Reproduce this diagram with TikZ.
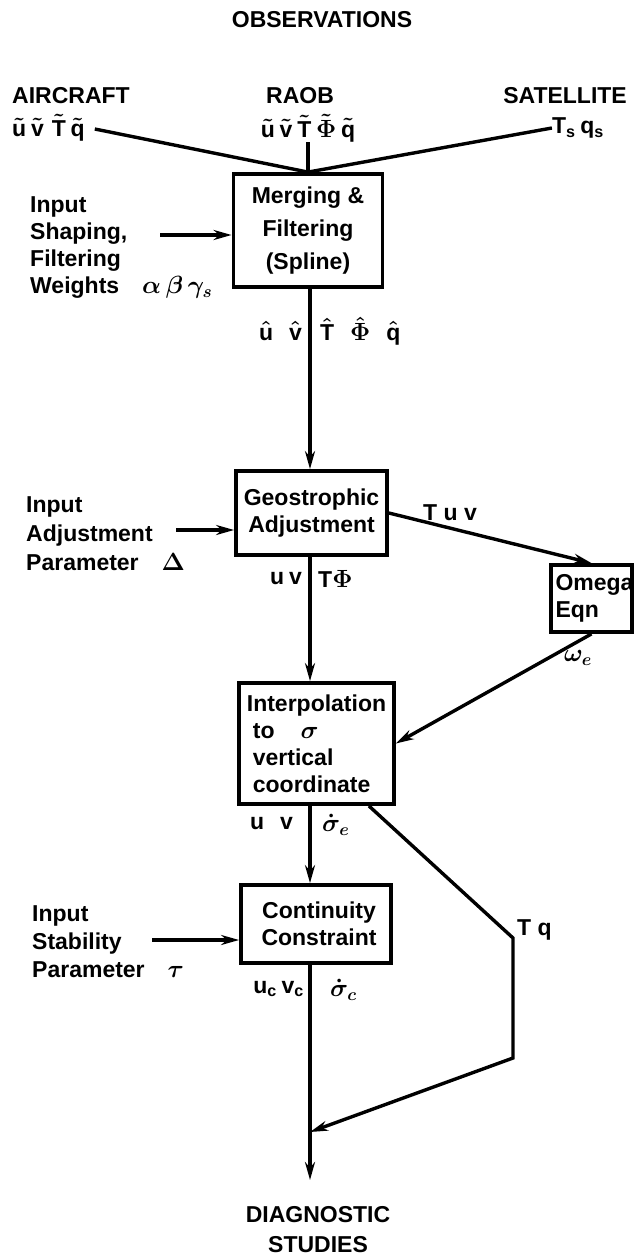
\documentclass[tikz,border=0pt]{standalone}
\usepackage{fontspec}
\setmainfont{Liberation Sans}
\usetikzlibrary{positioning, arrows.meta}
\tikzset{
    block/.style={draw, rectangle, line width=3.8pt, inner sep=0pt, align=center},
    note/.style={inner sep=0pt, align=left},
    wire/.style={line width=3.4pt}
}

\begin{document}
\begin{tikzpicture}[
    x=1pt, y=-1pt,
    >={Stealth[length=18pt,width=10pt]},
    every node/.style={font=\fontsize{23}{27}\selectfont\bfseries\boldmath}
]
\useasboundingbox (0,0) rectangle (633,1257);

% Boxes
\node[block, minimum width=149pt, minimum height=113pt] (merge) at (308,230.5) {Merging \&\\[6pt]Filtering\\[6pt](Spline)};
\node[block, minimum width=151pt, minimum height=84pt] (geo) at (311.5,513) {Geostrophic\\Adjustment};
\node[block, minimum width=155pt, minimum height=121pt, align=left] (interp) at (316.5,743.5) {Interpolation\\\hspace*{6pt}to\hspace{26pt}$\sigma$\\\hspace*{6pt}vertical\\\hspace*{6pt}coordinate};
\node[block, minimum width=150pt, minimum height=78pt] (cont) at (316,924) {\hspace*{6pt}Continuity\\\hspace*{6pt}Constraint};
\node[block, minimum width=81pt, minimum height=67pt, align=left, text width=72pt] (omega) at (591.5,598.5) {Omega\\Eqn};

% Observations
\node[note] (obs) at (322,20) {OBSERVATIONS};
\node[note, anchor=west] (air) at (12,96) {AIRCRAFT};
\node[note, anchor=west] (airsym) at (12,128) {$\tilde{\mathrm u}\,\tilde{\mathrm v}\;\tilde{\mathrm T}\,\tilde{\mathrm q}$};
\node[note] (raob) at (300,96) {RAOB};
\node[note] (raobsym) at (308,128) {$\tilde{\mathrm u}\,\tilde{\mathrm v}\,\tilde{\mathrm T}\,\tilde\Phi\,\tilde{\mathrm q}$};
\node[note, anchor=east] (sat) at (627,96) {SATELLITE};
\node[note] (satsym) at (578,128) {$\mathrm{T_s\,q_s}$};

% Inputs
\node[note, anchor=west] (inmerge) at (30,248) {Input\\Shaping,\\Filtering\\Weights\quad$\alpha\,\beta\,\gamma_s$};
\node[note, anchor=west] (ingeo) at (26,534) {Input\\[2pt]Adjustment\\[2pt]Parameter\quad$\Delta$};
\node[note, anchor=west] (incont) at (32,942) {Input\\[1pt]Stability\\[1pt]Parameter\quad$\tau$};
\coordinate (inA) at (160,235);
\coordinate (inB) at (176,530);
\coordinate (inC) at (152,940);

% Variables beside the lines
\node[note, anchor=east] (hatuv) at (302,331) {$\hat{\mathrm u}\;\;\hat{\mathrm v}$};
\node[note, anchor=west] (hatrest) at (320,331) {$\hat{\mathrm T}\;\;\hat\Phi\;\;\hat{\mathrm q}$};
\node[note, anchor=east] (geouv) at (302,579) {$\mathrm{u\,v}$};
\node[note, anchor=west] (geotp) at (318,579) {$\mathrm T\Phi$};
\node[note, anchor=east] (intuv) at (293,824) {$\mathrm{u\;\;v}$};
\node[note, anchor=west] (intsig) at (322,825) {$\dot\sigma_e$};
\node[note, anchor=east] (contuv) at (304,989) {$\mathrm{u_c\,v_c}$};
\node[note, anchor=west] (contsig) at (330,990) {$\dot\sigma_c$};
\node[note] (tuv) at (450,513) {T\;u\;v};
\node[note] (omout) at (578,658) {$\omega_e$};
\node[note, anchor=west] (tq) at (517,930) {T\;q};

\node[note, align=center] (diag) at (318,1230) {DIAGNOSTIC\\[3pt]STUDIES};

% Path points
\coordinate (axis) at (310,0);
\coordinate (tqa) at (513,938);
\coordinate (tqb) at (513,1058);
\coordinate (join) at (310,1132);
\coordinate (diagin) at (310,1180);

% Lines
\draw[wire] (airsym.east) ++(10,1) -- (merge.north);
\draw[wire] (raobsym.south) -- (merge.north);
\draw[wire] (satsym.west) -- (merge.north);
\draw[wire, ->] (inA) -- (inA -| merge.west);
\draw[wire, ->] (inB) -- (inB -| geo.west);
\draw[wire, ->] (inC) -- (inC -| cont.west);
\draw[wire, ->] (merge.south -| axis) -- (geo.north -| axis);
\draw[wire, ->] (geo.south -| axis) -- (interp.north -| axis);
\draw[wire, ->] (interp.south -| axis) -- (cont.north -| axis);
\draw[wire, ->] (cont.south -| axis) -- (diagin);
\draw[wire, ->] (geo.east) -- (omega.north);
\draw[wire, ->] (omega.south) -- (interp.east);
\draw[wire, ->] ([xshift=-27pt]interp.south east) -- (tqa) -- (tqb) -- (join);

\end{tikzpicture}
\end{document}
